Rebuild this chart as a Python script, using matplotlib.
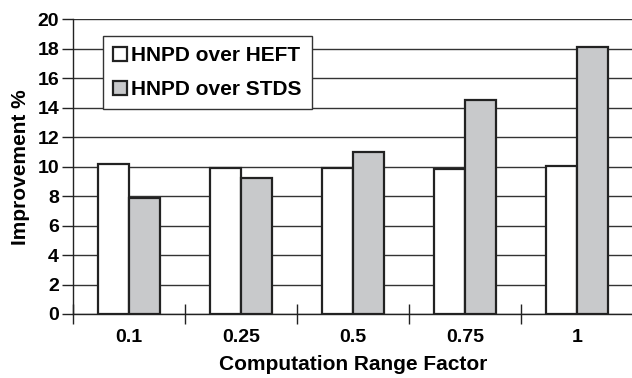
import numpy as np
import matplotlib.pyplot as plt
from matplotlib.patches import Patch

categories = ["0.1", "0.25", "0.5", "0.75", "1"]
over_heft = [10.15, 9.9, 9.9, 9.85, 10.05]
over_stds = [7.9, 9.2, 11.0, 14.55, 18.15]

plt.rcParams['font.family'] = ['Liberation Sans', 'DejaVu Sans']
plt.rcParams['font.weight'] = 'bold'

fig = plt.figure(figsize=(6.32, 3.78), dpi=100)
ax = fig.add_axes([73 / 632, 1 - 314 / 378, 560 / 632, (314 - 19.4) / 378])

x = np.arange(len(categories))
w = 0.28
edge = '#222222'
ax.bar(x - w / 2, over_heft, w, color='white', edgecolor=edge, linewidth=1.6, zorder=3)
ax.bar(x + w / 2, over_stds, w, color='#c8c9cb', edgecolor=edge, linewidth=1.6, zorder=3)

ax.set_xlim(-0.5, len(categories) - 0.5)
ax.set_ylim(0, 20)
ax.set_yticks(np.arange(0, 21, 2))
ax.yaxis.grid(True, color='#333333', linewidth=1.0, zorder=0)
ax.set_axisbelow(True)

# category ticks sit on the boundaries, labels centred under groups
ax.set_xticks(np.arange(len(categories) + 1) - 0.5)
ax.set_xticklabels([])
ax.set_xticks(x, minor=True)
ax.set_xticklabels(categories, minor=True, fontsize=14, fontweight='bold')
ax.tick_params(axis='x', which='major', direction='inout', length=14, width=1, color='#222222')
ax.tick_params(axis='x', which='minor', length=0, pad=11)
ax.tick_params(axis='y', direction='out', length=8, width=1, color='#222222', labelsize=14, pad=2)
for lab in ax.get_yticklabels():
    lab.set_fontweight('bold')

for s in ['top', 'right']:
    ax.spines[s].set_visible(False)
for s in ['left', 'bottom']:
    ax.spines[s].set_color('#222222')
    ax.spines[s].set_linewidth(1.0)

ax.set_xlabel("Computation Range Factor", fontsize=15, fontweight='bold', labelpad=6)
ax.set_ylabel("Improvement %", fontsize=15, fontweight='bold', labelpad=5)

handles = [Patch(facecolor='white', edgecolor=edge, linewidth=1.6),
           Patch(facecolor='#c8c9cb', edgecolor=edge, linewidth=1.6)]
leg = ax.legend(handles, ["HNPD over HEFT", "HNPD over STDS"], loc='upper left',
                bbox_to_anchor=(30 / 560, (314 - 36) / 294.6), fancybox=False,
                framealpha=1, edgecolor='#333333',
                prop={'weight': 'bold', 'size': 15},
                handlelength=0.65, handleheight=0.65, handletextpad=0.2,
                borderpad=0.5, labelspacing=0.7, borderaxespad=0)
leg.get_frame().set_linewidth(1.0)
leg.set_zorder(5)

fig.savefig("out.png", dpi=100)
